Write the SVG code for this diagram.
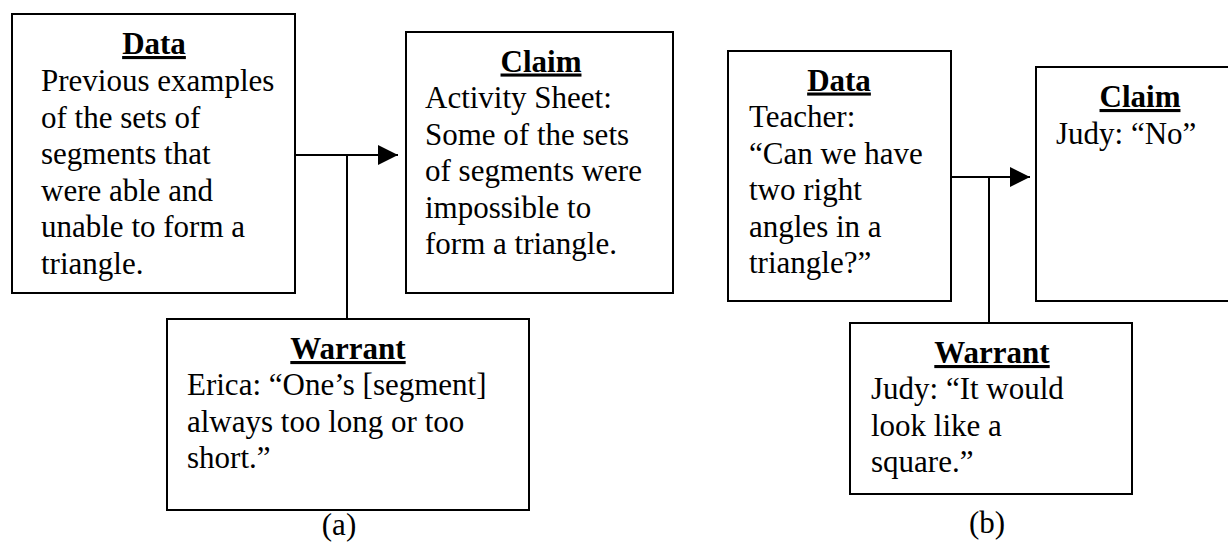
<svg xmlns="http://www.w3.org/2000/svg" width="1228" height="545" viewBox="0 0 1228 545">
<style>
.box{fill:#fff;stroke:#000;stroke-width:2}
.t{font-family:"Liberation Serif","Times New Roman",serif;font-size:31px;fill:#000}
.h{font-family:"Liberation Serif","Times New Roman",serif;font-size:31px;font-weight:bold;text-decoration:underline;fill:#000;text-anchor:middle}
.c{stroke:#000;stroke-width:2;fill:none}
.cap{font-family:"Liberation Serif","Times New Roman",serif;font-size:31px;fill:#000;text-anchor:middle}
</style>
<defs>
<marker id="ah" markerWidth="20" markerHeight="20" refX="20" refY="10" orient="auto" markerUnits="userSpaceOnUse">
<path d="M0,0 L20,10 L0,20 Z" fill="#000"/>
</marker>
</defs>
<g id="connectors">
<line class="c" x1="293" y1="155" x2="398" y2="155" marker-end="url(#ah)"/>
<line class="c" x1="347" y1="155" x2="347" y2="319"/>
<line class="c" x1="948" y1="177" x2="1030" y2="177" marker-end="url(#ah)"/>
<line class="c" x1="989" y1="177" x2="989" y2="323"/>
</g>
<g id="data-a">
<rect class="box" x="12" y="14" width="283" height="279"/>
<text class="h" x="154" y="54">Data</text>
<text class="t" x="41" y="91">Previous examples</text>
<text class="t" x="41" y="127.5">of the sets of</text>
<text class="t" x="41" y="164">segments that</text>
<text class="t" x="41" y="200.5">were able and</text>
<text class="t" x="41" y="237">unable to form a</text>
<text class="t" x="41" y="273.5">triangle.</text>
</g>
<g id="claim-a">
<rect class="box" x="406" y="32" width="267" height="261"/>
<text class="h" x="541" y="71.5">Claim</text>
<text class="t" x="425" y="108">Activity Sheet:</text>
<text class="t" x="425" y="144.5">Some of the sets</text>
<text class="t" x="425" y="181">of segments were</text>
<text class="t" x="425" y="217.5">impossible to</text>
<text class="t" x="425" y="254">form a triangle.</text>
</g>
<g id="warrant-a">
<rect class="box" x="167" y="319" width="362" height="191"/>
<text class="h" x="348" y="359">Warrant</text>
<text class="t" x="187" y="395">Erica: “One’s [segment]</text>
<text class="t" x="187" y="431.5">always too long or too</text>
<text class="t" x="187" y="468">short.”</text>
</g>
<text class="cap" x="339" y="535">(a)</text>
<g id="data-b">
<rect class="box" x="728" y="51" width="223" height="250"/>
<text class="h" x="839" y="90.5">Data</text>
<text class="t" x="749" y="127">Teacher:</text>
<text class="t" x="749" y="163.5">“Can we have</text>
<text class="t" x="749" y="200">two right</text>
<text class="t" x="749" y="236.5">angles in a</text>
<text class="t" x="749" y="273">triangle?”</text>
</g>
<g id="claim-b">
<rect class="box" x="1036" y="67" width="200" height="234"/>
<text class="h" x="1140" y="107">Claim</text>
<text class="t" x="1056" y="144">Judy: “No”</text>
</g>
<g id="warrant-b">
<rect class="box" x="850" y="323" width="282" height="171"/>
<text class="h" x="992" y="363">Warrant</text>
<text class="t" x="871" y="399">Judy: “It would</text>
<text class="t" x="871" y="435.5">look like a</text>
<text class="t" x="871" y="472">square.”</text>
</g>
<text class="cap" x="987" y="533">(b)</text>
</svg>
